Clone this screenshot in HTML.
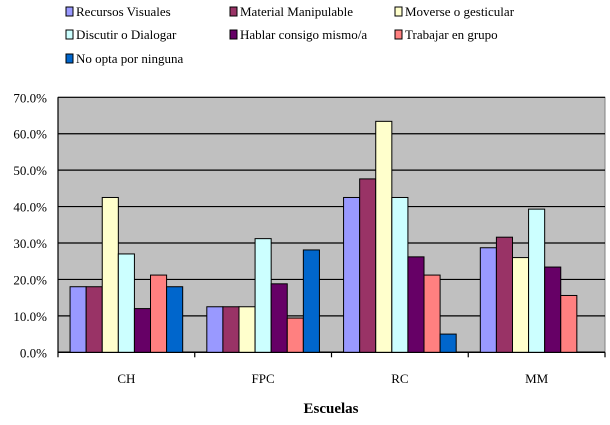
<!DOCTYPE html>
<html><head><meta charset="utf-8"><style>
body{margin:0;background:#fff;width:610px;height:420px;overflow:hidden;font-family:"Liberation Serif","DejaVu Serif",serif;}
svg text{font-family:"Liberation Serif","DejaVu Serif",serif;}
</style></head><body>
<svg id="chart" width="610" height="420" font-family="Liberation Serif, DejaVu Serif, serif" xmlns="http://www.w3.org/2000/svg"></svg>
<script>
const categories=["CH","FPC","RC","MM"];
const seriesNames=["Recursos Visuales","Material Manipulable","Moverse o gesticular","Discutir o Dialogar","Hablar consigo mismo/a","Trabajar en grupo","No opta por ninguna"];
const recursosVisuales=[18.0,12.5,42.5,28.7];
const materialManipulable=[18.0,12.5,47.6,31.6];
const moverse=[42.5,12.5,63.4,26.0];
const discutir=[27.0,31.2,42.5,39.3];
const hablar=[12.0,18.8,26.2,23.4];
const trabajar=[21.2,9.4,21.2,15.6];
const noOpta=[18.0,28.1,5.0,0];
const yTicks=[0,10,20,30,40,50,60,70];
const yTickLabels=["0.0%","10.0%","20.0%","30.0%","40.0%","50.0%","60.0%","70.0%"];
const colors=["#9999FF","#993366","#FFFFCC","#CCFFFF","#660066","#FF8080","#0066CC"];
const series=[recursosVisuales,materialManipulable,moverse,discutir,hablar,trabajar,noOpta];
const NS="http://www.w3.org/2000/svg";
const svg=document.getElementById('chart');
const L=58,R=605,T=97.3,B=352.3;
const y=v=>B-(v/70)*(B-T);
const cw=(R-L)/categories.length;
const bw=cw/8.5;
function mk(tag,attrs,parent){const e=document.createElementNS(NS,tag);for(const k in attrs)e.setAttribute(k,attrs[k]);(parent||svg).appendChild(e);return e;}
let bg=mk('rect',{x:L,y:T,width:R-L,height:B-T,fill:'#C0C0C0',stroke:'#808080','stroke-width':1});


yTicks.forEach((t,i)=>{
  if(t>0){let g=mk('line',{x1:L,x2:R,y1:y(t),y2:y(t),stroke:'#000','stroke-width':1.2});
  
  }
  let tx=mk('text',{x:47,y:y(t)+5,'text-anchor':'end','font-size':13,fill:'#000'});
  tx.textContent=yTickLabels[i];
  
  
});
mk('line',{x1:L,x2:L,y1:T,y2:B+5,stroke:'#000','stroke-width':1.2});
let xa=mk('line',{x1:L,x2:R,y1:B,y2:B,stroke:'#000','stroke-width':1.5});


categories.forEach((c,ci)=>{
  const x0=L+cw*ci;
  mk('line',{x1:x0+cw,x2:x0+cw,y1:B,y2:B+5,stroke:'#000','stroke-width':1.2});
  series.forEach((s,si)=>{
    const v=s[ci]; if(!v) return;
    let r=mk('rect',{x:x0+bw*0.75+bw*si,y:y(v),width:bw,height:B-y(v),fill:colors[si],stroke:'#000','stroke-width':1});
    
    
  });
  let t=mk('text',{x:x0+cw/2,y:383,'text-anchor':'middle','font-size':13});
  t.textContent=c;
  
  
});
let xt=mk('text',{x:331,y:413,'text-anchor':'middle','font-size':15,'font-weight':'bold'});
xt.textContent='Escuelas';


const lx=[66,230,395],ly=[12,35,59];
seriesNames.forEach((n,i)=>{
  const cx=lx[i%3],cy=ly[Math.floor(i/3)];
  let g=mk('g',{});
  
  
  mk('rect',{x:cx,y:cy-5,width:7,height:9,fill:colors[i],stroke:'#000','stroke-width':1},g);
  let t=mk('text',{x:cx+10,y:cy+4,'font-size':13},g);
  t.textContent=n;
});
</script>
</body></html>
